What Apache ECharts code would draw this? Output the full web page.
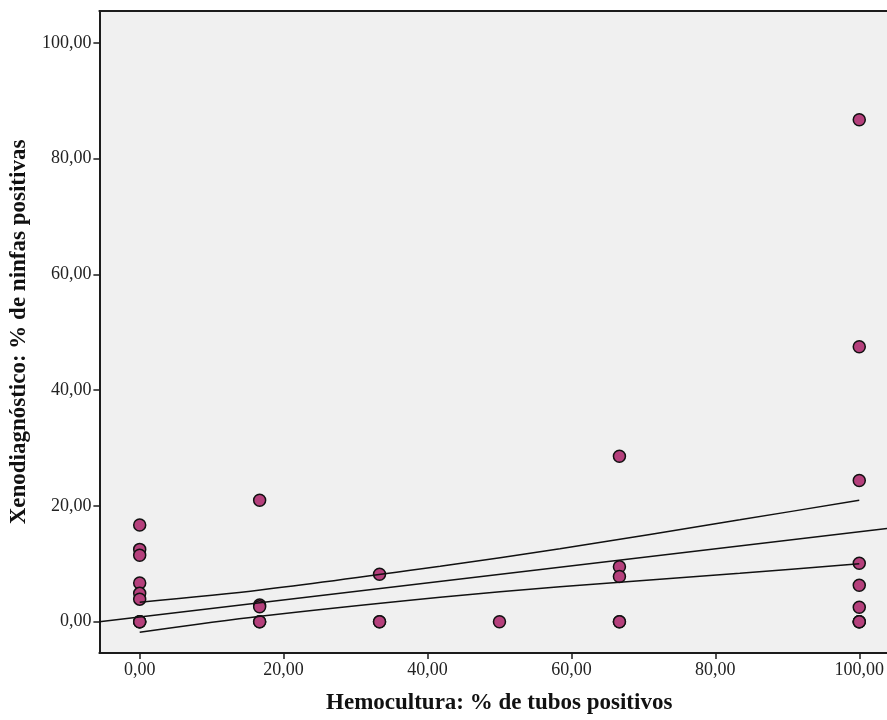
<!DOCTYPE html>
<html>
<head>
<meta charset="utf-8">
<script src="https://cdn.jsdelivr.net/npm/echarts@6/dist/echarts.min.js"></script>
<style>
  html, body { margin: 0; padding: 0; background: #ffffff; }
  #chart { width: 887px; height: 720px; }
</style>
</head>
<body>
<div id="chart"></div>
<script>
// Hemocultura (% tubos positivos) vs Xenodiagnóstico (% ninfas positivas)
const hemoX   = [0, 0, 0, 0, 0, 0, 0, 0, 0,
                 16.67, 16.67, 16.67, 16.67, 16.67,
                 33.33, 33.33, 33.33,
                 50,
                 66.67, 66.67, 66.67, 66.67, 66.67,
                 100, 100, 100, 100, 100, 100, 100, 100, 100];
const xenoY   = [16.7, 12.5, 11.5, 6.7, 4.9, 3.9, 0, 0, 0,
                 21.0, 2.9, 2.6, 0, 0,
                 8.2, 0, 0,
                 0,
                 28.6, 9.5, 7.8, 0, 0,
                 86.7, 47.5, 24.4, 10.1, 6.3, 2.5, 0, 0, 0];

// Linear fit across the full axis range
const fitX    = [-5.6, 103.85];
const fitY    = [0.0, 16.1];

// 95% confidence band of the mean, over the observed x range
const ciX     = [0, 16.76, 41.76, 58.4, 83.4, 100];
const ciUpper = [3.36, 5.48, 9.58, 12.6, 17.6, 21.0];
const ciLower = [-1.83, 0.93, 4.22, 6.06, 8.37, 10.0];

// Axis ticks
const xTicks = [0, 20, 40, 60, 80, 100];
const yTicks = [0, 20, 40, 60, 80, 100];

const xMin = -5.6, xMax = 103.85;
const yMin = -5.4, yMax = 105.5;

const fmt = v => v.toFixed(2).replace('.', ',');
const zip = (a, b) => a.map((v, i) => [v, b[i]]);

const serif = '"Liberation Serif", "Times New Roman", serif';
const frame = '#1c1c1c';

const chart = echarts.init(document.getElementById('chart'), null, { renderer: 'canvas' });

chart.setOption({
  animation: false,
  backgroundColor: '#ffffff',
  grid: {
    left: 99, top: 11, right: 0, bottom: 66,
    show: true,
    backgroundColor: '#f0f0f0',
    borderWidth: 0
  },
  xAxis: [{
    type: 'value',
    min: xMin, max: xMax,
    position: 'bottom',
    splitLine: { show: false },
    axisLine: { show: true, onZero: false, lineStyle: { color: frame, width: 2 } },
    axisTick: { show: true, customValues: xTicks, length: 6, lineStyle: { color: frame, width: 1.5 } },
    axisLabel: {
      customValues: xTicks, formatter: fmt, margin: 8,
      fontFamily: serif, fontSize: 18, color: '#222'
    },
    name: 'Hemocultura: % de tubos positivos',
    nameLocation: 'middle',
    nameGap: 39,
    nameTextStyle: {
      fontFamily: serif, fontSize: 23, fontWeight: 'bold', color: '#111',
      padding: [0, 0, 0, 12]
    }
  }, {
    type: 'value',
    min: xMin, max: xMax,
    position: 'top',
    splitLine: { show: false },
    axisLine: { show: true, onZero: false, lineStyle: { color: frame, width: 2 } },
    axisTick: { show: false },
    axisLabel: { show: false }
  }],
  yAxis: {
    type: 'value',
    min: yMin, max: yMax,
    splitLine: { show: false },
    axisLine: { show: true, onZero: false, lineStyle: { color: frame, width: 2 } },
    axisTick: { show: true, customValues: yTicks, length: 6, lineStyle: { color: frame, width: 1.5 } },
    axisLabel: {
      customValues: yTicks, formatter: fmt, margin: 8,
      fontFamily: serif, fontSize: 18, color: '#222'
    },
    name: 'Xenodiagnóstico: % de ninfas positivas',
    nameLocation: 'middle',
    nameGap: 68,
    nameTextStyle: {
      fontFamily: serif, fontSize: 23, fontWeight: 'bold', color: '#111'
    }
  },
  series: [{
    type: 'scatter',
    data: zip(hemoX, xenoY),
    symbol: 'circle',
    symbolSize: 12,
    itemStyle: { color: '#b5407c', borderColor: '#111', borderWidth: 1.5, opacity: 1 },
    z: 2
  }, {
    type: 'line',
    data: zip(fitX, fitY),
    showSymbol: false,
    lineStyle: { color: '#111', width: 1.5 },
    z: 3
  }, {
    type: 'line',
    data: zip(ciX, ciUpper),
    smooth: 0.3,
    showSymbol: false,
    lineStyle: { color: '#111', width: 1.5 },
    z: 3
  }, {
    type: 'line',
    data: zip(ciX, ciLower),
    smooth: 0.3,
    showSymbol: false,
    lineStyle: { color: '#111', width: 1.5 },
    z: 3
  }]
});
</script>
</body>
</html>
